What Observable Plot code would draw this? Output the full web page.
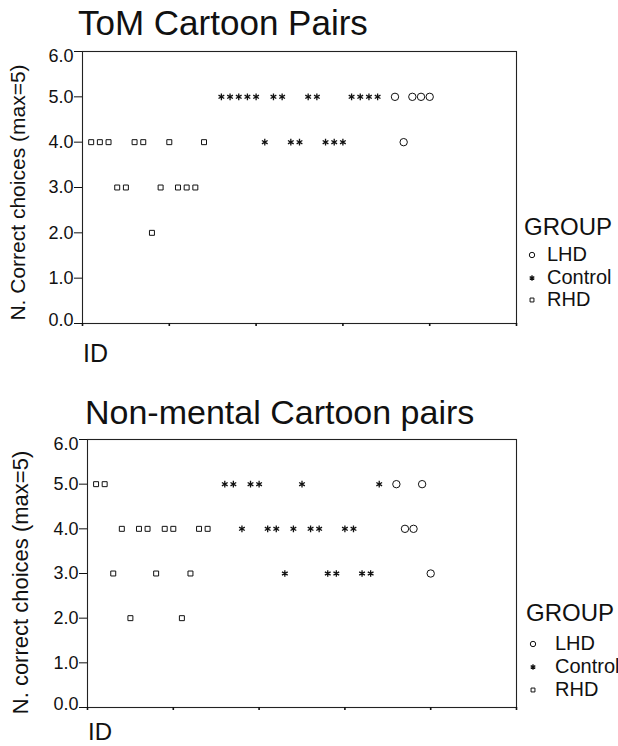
<!DOCTYPE html>
<html><head><meta charset="utf-8">
<script src="https://cdn.jsdelivr.net/npm/d3@7"></script>
<script src="https://cdn.jsdelivr.net/npm/@observablehq/plot@0.6"></script>
<style>
body{margin:0;background:#fff;font-family:"Liberation Sans",Arial,sans-serif;color:#111;}
#page{position:relative;width:618px;height:746px;overflow:hidden;background:#fff;}
.abs{position:absolute;white-space:nowrap;line-height:1;}
.title{font-size:35px;}
.lgtitle{font-size:24px;}
.lgitem{font-size:20px;}
svg.chart{position:absolute;left:0;}
</style></head>
<body><div id="page"></div>
<script>
// ---- data ----
const ids = [1,2,3,4,5,6,7,8,9,10,11,12,13,14,
             16,17,18,19,20,21,22,23,24,25,26,27,28,29,30,31,32,33,34,
             36,37,38,39,40];
const groups = ["RHD","RHD","RHD","RHD","RHD","RHD","RHD","RHD","RHD","RHD","RHD","RHD","RHD","RHD",
  "Control","Control","Control","Control","Control","Control","Control","Control","Control","Control",
  "Control","Control","Control","Control","Control","Control","Control","Control","Control",
  "LHD","LHD","LHD","LHD","LHD"];
const tomScores = [4,4,4,3,3,4,4,2,3,4,3,3,3,4,
  5,5,5,5,5,4,5,5,4,4,5,5,4,4,4,5,5,5,5,
  5,4,5,5,5];
const nonmentalScores = [5,5,3,4,2,4,4,3,4,4,2,3,4,4,
  5,5,4,5,5,4,4,3,4,5,4,4,3,3,4,4,3,3,5,
  5,4,4,5,3];
const groupOrder = ["LHD","Control","RHD"];
const yTicks = [0,1,2,3,4,5,6];
const xTicks = [0,10,20,30,40,50];
const titles = ["ToM Cartoon Pairs","Non-mental Cartoon pairs"];
const yLabels = ["N. Correct choices (max=5)","N. correct choices (max=5)"];
const xLabel = "ID";
const legendTitle = "GROUP";

// ---- helpers ----
const rows = ids.map((id,i)=>({id, group:groups[i], tom:tomScores[i], nm:nonmentalScores[i]}));
const symOf = {LHD:"circle", Control:"asterisk", RHD:"square"};
const rOf = {LHD:3.7, Control:3.1, RHD:2.8};
const swOf = {LHD:1, Control:1.3, RHD:1};
const fmt = d3.format(".1f");
const page = document.getElementById("page");

function addText(txt, cls, left, top, extra){
  const d = document.createElement("div");
  d.className = "abs " + cls; d.textContent = txt;
  d.style.left = left+"px"; d.style.top = top+"px";
  if (extra) Object.assign(d.style, extra);
  page.appendChild(d);
  return d;
}

function chart(key, cfg){
  const dots = groupOrder.map(g => Plot.dot(rows.filter(r=>r.group===g), {
    x:"id", y:key, symbol:()=>symOf[g], r:rOf[g], stroke:"#111", fill:"none", strokeWidth:swOf[g]
  }));
  const p = Plot.plot({
    width:618, height:cfg.height,
    marginLeft:cfg.ml, marginRight:618-cfg.mr, marginTop:cfg.mt, marginBottom:cfg.mb,
    style:{fontFamily:'"Liberation Sans",Arial,sans-serif', color:"#111", background:"transparent", overflow:"visible"},
    x:{domain:[0,50]},
    y:{domain:[0,6]},
    symbol:{type:"identity"},
    marks:[
      Plot.frame({stroke:"#222", strokeWidth:1.1}),
      Plot.axisX(xTicks, {tickSize:3, tickFormat:()=>"", label:null, strokeWidth:1.6}),
      Plot.axisY(yTicks, {tickSize:8, tickFormat:()=>"", label:null}),
      Plot.axisY(yTicks.filter(t=>t>0&&t<6), {tickSize:0, tickPadding:9, tickFormat:fmt, fontSize:18, label:null}),
      Plot.axisY([6], {tickSize:0, tickPadding:9, tickFormat:fmt, fontSize:18, label:null, dy:5}),
      Plot.axisY([0], {tickSize:0, tickPadding:9, tickFormat:fmt, fontSize:18, label:null, dy:-3}),
      Plot.text([cfg.ylabel], {frameAnchor:"left", textAnchor:"middle", dx:cfg.ldx, dy:cfg.ldy, rotate:-90, fontSize:cfg.lfs, fill:"#111"}),
      ...dots
    ]
  });
  p.classList.add("chart");
  p.style.top = cfg.top+"px";
  page.appendChild(p);
}

function legend(x0, sx, tx, titleTop, centers){
  addText(legendTitle, "lgtitle", x0, titleTop);
  groupOrder.forEach((g,i)=>{
    const svg = d3.create("svg").attr("width",12).attr("height",12)
      .style("position","absolute").style("left",(sx-6)+"px").style("top",(centers[i]-6)+"px");
    const size = g==="LHD" ? Math.PI*2.7*2.7 : g==="Control" ? Math.PI*2.5*2.5 : Math.PI*2.2*2.2;
    const type = g==="LHD" ? d3.symbolCircle : g==="Control" ? d3.symbolAsterisk : d3.symbolSquare;
    svg.append("path").attr("transform","translate(6,6)")
      .attr("d", d3.symbol(type, size)()).attr("fill","none").attr("stroke","#111").attr("stroke-width",swOf[g]);
    page.appendChild(svg.node());
    addText(g, "lgitem", tx, centers[i]-11);
  });
}

// ---- top chart ----
addText(titles[0], "title", 78, 5);
chart("tom", {top:44, height:285, ml:82, mr:516, mt:7, mb:6, ylabel:yLabels[0], ldx:-64, ldy:5, lfs:21});
addText(xLabel, "title", 83, 341, {fontSize:"25px"});
legend(524, 532, 547, 215, [255,278,300]);

// ---- bottom chart ----
addText(titles[1], "title", 85, 395, {fontSize:"34px"});
chart("nm", {top:432, height:281, ml:87, mr:516, mt:7, mb:6, ylabel:yLabels[1], ldx:-67, ldy:9, lfs:22});
addText(xLabel, "title", 88, 720, {fontSize:"24px"});
legend(526, 533, 555, 601, [644,667,690]);
</script>
</body></html>
